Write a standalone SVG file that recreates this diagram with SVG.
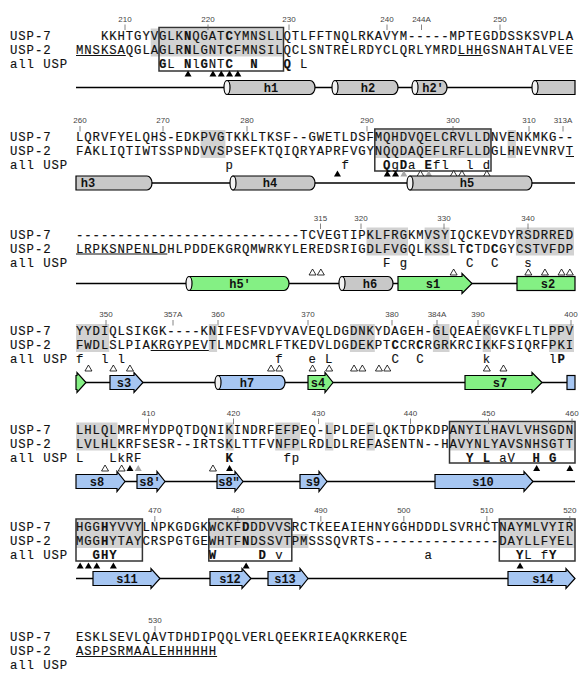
<svg xmlns="http://www.w3.org/2000/svg" width="584" height="679" viewBox="0 0 584 679">
<style>
.seq{font-family:"Liberation Mono","Courier New",monospace;font-size:12.3px;letter-spacing:0.92px;fill:#111;stroke:#111;stroke-width:0.15}
.b{font-weight:bold}
.num{font-family:"Liberation Sans",Arial,sans-serif;font-size:8px;fill:#444;text-anchor:middle}
.tick{stroke:#666;stroke-width:0.8}
.shade{fill:#d2d2d2}
.box{fill:none;stroke:#333;stroke-width:1.5}
.ul{stroke:#111;stroke-width:1}
.bb{stroke:#000;stroke-width:1.3}
.hg{fill:#c8c8c8;stroke:#000;stroke-width:1.2}
.gr{fill:#84f084;stroke:#000;stroke-width:1.2}
.bl{fill:#a6c6f2;stroke:#000;stroke-width:1.2}
.cap{fill:#f2f2f2;stroke:#000;stroke-width:1.2}
.ssl{font-family:"Liberation Mono","Courier New",monospace;font-size:12px;font-weight:bold;fill:#111;text-anchor:middle}
</style>
<defs>
<path id="tf" d="M-3.5,3 L0,-3 L3.5,3Z" fill="#000"/>
<path id="to" d="M-3.5,3 L0,-3 L3.5,3Z" fill="#fff" stroke="#000" stroke-width="0.8"/>
<path id="tg" d="M-3.5,3 L0,-3 L3.5,3Z" fill="#a8a8a8"/>
</defs>

<!-- ===== Block 1 ===== -->
<g id="block1">
<rect class="shade" x="150.7" y="28.5" width="132.8" height="28"/>
<rect class="box" x="159" y="27.5" width="124.5" height="43.5"/>
<text class="num" x="125" y="21.5">210</text><text class="num" x="208" y="21.5">220</text><text class="num" x="289" y="21.5">230</text><text class="num" x="387" y="21.5">240</text><text class="num" x="421.5" y="21.5">244A</text><text class="num" x="500" y="21.5">250</text>
<g class="tick"><line x1="125" y1="24.5" x2="125" y2="30"/><line x1="208" y1="24.5" x2="208" y2="30"/><line x1="289" y1="24.5" x2="289" y2="30"/><line x1="387" y1="24.5" x2="387" y2="30"/><line x1="421.5" y1="24.5" x2="421.5" y2="30"/><line x1="500" y1="24.5" x2="500" y2="30"/></g>
<text class="seq" x="10" y="39.5">USP-7</text>
<text class="seq" x="10" y="53.5">USP-2</text>
<text class="seq" x="10" y="67.5">all USP</text>
<text class="seq" x="100.9" y="39.5">KKHTGYVGLK</text><text class="seq b" x="183.9" y="39.5">N</text><text class="seq" x="192.2" y="39.5">QGAT</text><text class="seq b" x="225.4" y="39.5">C</text><text class="seq" x="233.7" y="39.5">YMNSLLQTLFFTNQLRKAVYM-----MPTEGDDSSKSVPLA</text>
<text class="seq" x="76" y="53.5">MNSKSAQGLAGLR</text><text class="seq b" x="183.9" y="53.5">N</text><text class="seq" x="192.2" y="53.5">LGNT</text><text class="seq b" x="225.4" y="53.5">C</text><text class="seq" x="233.7" y="53.5">FMNSILQCLSNTRELRDYCLQRLYMRDLHHGSNAHTALVEE</text>
<line class="ul" x1="76" y1="55.5" x2="125.8" y2="55.5"/>
<line class="ul" x1="457.8" y1="55.5" x2="482.7" y2="55.5"/>
<text class="seq b" x="159" y="67.5">G</text><text class="seq" x="167.3" y="67.5">L</text><text class="seq b" x="183.9" y="67.5">N</text><text class="seq" x="192.2" y="67.5">l</text><text class="seq b" x="200.5" y="67.5">G</text><text class="seq" x="208.8" y="67.5">NT</text><text class="seq b" x="225.4" y="67.5">C</text><text class="seq b" x="250.3" y="67.5">N</text><text class="seq b" x="283.5" y="67.5">Q</text><text class="seq" x="300.1" y="67.5">L</text>
<use href="#tf" x="188.05" y="73.5"/><use href="#tf" x="212.95" y="73.5"/><use href="#tf" x="221.25" y="73.5"/><use href="#tf" x="229.55" y="73.5"/><use href="#tf" x="237.85" y="73.5"/>
</g>

<!-- ===== Block 2 ===== -->
<g id="block2">
<rect class="shade" x="200.5" y="130" width="24.9" height="28"/>
<rect class="shade" x="374.8" y="130" width="116.2" height="28"/>
<rect class="shade" x="507.6" y="130" width="8.3" height="28"/>
<rect class="box" x="374.8" y="129" width="116.2" height="42"/>
<text class="num" x="80" y="123">260</text><text class="num" x="163" y="123">270</text><text class="num" x="247" y="123">280</text><text class="num" x="367" y="123">290</text><text class="num" x="453" y="123">300</text><text class="num" x="529" y="123">310</text><text class="num" x="563" y="123">313A</text>
<g class="tick"><line x1="80" y1="126" x2="80" y2="131.5"/><line x1="163" y1="126" x2="163" y2="131.5"/><line x1="247" y1="126" x2="247" y2="131.5"/><line x1="367" y1="126" x2="367" y2="131.5"/><line x1="453" y1="126" x2="453" y2="131.5"/><line x1="529" y1="126" x2="529" y2="131.5"/><line x1="563" y1="126" x2="563" y2="131.5"/></g>
<text class="seq" x="10" y="141">USP-7</text>
<text class="seq" x="10" y="155">USP-2</text>
<text class="seq" x="10" y="169">all USP</text>
<text class="seq" x="76" y="141">LQRVFYELQHS-EDKPVGTKKLTKSF--GWETLDSFMQHDVQELCRVLLDNVENKMKG--</text>
<text class="seq" x="76" y="155">FAKLIQTIWTSSPNDVVSPSEFKTQIQRYAPRFVGYNQQDAQEFLRFLLDGLHNEVNRVT</text>
<line class="ul" x1="565.7" y1="156.5" x2="574" y2="156.5"/>
<text class="seq" x="225.4" y="169">p</text><text class="seq" x="341.6" y="169">f</text><text class="seq b" x="383.1" y="169">Q</text><text class="seq" x="391.4" y="169">g</text><text class="seq b" x="399.7" y="169">D</text><text class="seq" x="408" y="169">a</text><text class="seq b" x="424.6" y="169">E</text><text class="seq" x="432.9" y="169">fl</text><text class="seq" x="466.1" y="169">l</text><text class="seq" x="482.7" y="169">d</text>
<use href="#tf" x="337.45" y="173.5"/><use href="#tf" x="387.25" y="173.5"/><use href="#tf" x="395.55" y="173.5"/><use href="#tg" x="403.85" y="173.5"/><use href="#to" x="420.45" y="173.5"/><use href="#tg" x="428.75" y="173.5"/><use href="#to" x="453.65" y="173.5"/><use href="#to" x="461.95" y="173.5"/><use href="#to" x="486.85" y="173.5"/>
</g>

<!-- ===== Block 3 ===== -->
<g id="block3">
<rect class="shade" x="366.5" y="227.5" width="41.5" height="28"/>
<rect class="shade" x="424.6" y="227.5" width="24.9" height="28"/>
<rect class="shade" x="515.9" y="227.5" width="58.1" height="28"/>
<text class="num" x="320.5" y="220.5">315</text><text class="num" x="361" y="220.5">320</text><text class="num" x="444" y="220.5">330</text><text class="num" x="528" y="220.5">340</text>
<g class="tick"><line x1="320.5" y1="223.5" x2="320.5" y2="229"/><line x1="361" y1="223.5" x2="361" y2="229"/><line x1="444" y1="223.5" x2="444" y2="229"/><line x1="528" y1="223.5" x2="528" y2="229"/></g>
<text class="seq" x="10" y="238.5">USP-7</text>
<text class="seq" x="10" y="252.5">USP-2</text>
<text class="seq" x="10" y="266.5">all USP</text>
<text class="seq" x="76" y="238.5">---------------------------TCVEGTIPKLFRGKMVSYIQCKEVDYRSDRRED</text>
<text class="seq" x="76" y="252.5">LRPKSNPENLDHLPDDEKGRQMWRKYLEREDSRIGDLFVGQLKSSLT</text><text class="seq b" x="466.1" y="252.5">C</text><text class="seq" x="474.4" y="252.5">TD</text><text class="seq b" x="491" y="252.5">C</text><text class="seq" x="499.3" y="252.5">GYCSTVFDP</text>
<line class="ul" x1="76" y1="254" x2="167.3" y2="254"/>
<text class="seq" x="383.1" y="266.5">F</text><text class="seq" x="399.7" y="266.5">g</text><text class="seq" x="466.1" y="266.5">C</text><text class="seq" x="491" y="266.5">C</text><text class="seq" x="524.2" y="266.5">s</text>
<use href="#to" x="312.55" y="272"/><use href="#to" x="320.85" y="272"/><use href="#to" x="453.65" y="272"/><use href="#to" x="528.35" y="272"/><use href="#to" x="544.95" y="272"/><use href="#to" x="561.55" y="272"/><use href="#to" x="569.85" y="272"/>
</g>

<!-- ===== Block 4 ===== -->
<g id="block4">
<rect class="shade" x="76" y="324" width="33.2" height="28"/>
<rect class="shade" x="208.8" y="324" width="8.3" height="28"/>
<rect class="shade" x="349.9" y="324" width="24.9" height="28"/>
<rect class="shade" x="432.9" y="324" width="16.6" height="28"/>
<rect class="shade" x="482.7" y="324" width="8.3" height="28"/>
<rect class="shade" x="549.1" y="324" width="24.9" height="28"/>
<text class="num" x="106" y="317">350</text><text class="num" x="173" y="317">357A</text><text class="num" x="218" y="317">360</text><text class="num" x="308" y="317">370</text><text class="num" x="392" y="317">380</text><text class="num" x="437" y="317">384A</text><text class="num" x="478" y="317">390</text><text class="num" x="571" y="317">400</text>
<g class="tick"><line x1="106" y1="320" x2="106" y2="325.5"/><line x1="173" y1="320" x2="173" y2="325.5"/><line x1="218" y1="320" x2="218" y2="325.5"/><line x1="308" y1="320" x2="308" y2="325.5"/><line x1="392" y1="320" x2="392" y2="325.5"/><line x1="437" y1="320" x2="437" y2="325.5"/><line x1="478" y1="320" x2="478" y2="325.5"/><line x1="571" y1="320" x2="571" y2="325.5"/></g>
<text class="seq" x="10" y="335">USP-7</text>
<text class="seq" x="10" y="349">USP-2</text>
<text class="seq" x="10" y="363">all USP</text>
<text class="seq" x="76" y="335">YYDIQLSIKGK----KNIFESFVDYVAVEQLDGDNKYDAGEH-GLQEAEKGVKFLTLPPV</text>
<text class="seq" x="76" y="349">FWDLSLPIAKRGYPEVTLMDCMRLFTKEDVLDGDEKPT</text><text class="seq b" x="391.4" y="349">C</text><text class="seq" x="399.7" y="349">CR</text><text class="seq b" x="416.3" y="349">C</text><text class="seq" x="424.6" y="349">RGRKRCIKKFSIQRFPKI</text>
<line class="ul" x1="150.7" y1="350.5" x2="208.8" y2="350.5"/>
<text class="seq" x="76" y="363">f</text><text class="seq" x="100.9" y="363">l</text><text class="seq" x="117.5" y="363">l</text><text class="seq" x="275.2" y="363">f</text><text class="seq" x="308.4" y="363">e</text><text class="seq" x="325" y="363">L</text><text class="seq" x="391.4" y="363">C</text><text class="seq" x="416.3" y="363">C</text><text class="seq" x="482.7" y="363">k</text><text class="seq" x="549.1" y="363">l</text><text class="seq b" x="557.4" y="363">P</text>
<use href="#to" x="88.45" y="368"/><use href="#to" x="113.35" y="368"/><use href="#to" x="129.95" y="368"/><use href="#to" x="271.05" y="368"/><use href="#to" x="279.35" y="368"/><use href="#to" x="312.55" y="368"/><use href="#to" x="329.15" y="368"/><use href="#to" x="354.05" y="368"/><use href="#to" x="362.35" y="368"/><use href="#to" x="378.95" y="368"/><use href="#to" x="387.25" y="368"/><use href="#to" x="486.85" y="368"/><use href="#to" x="503.45" y="368"/>
</g>

<!-- ===== Block 5 ===== -->
<g id="block5">
<rect class="shade" x="76" y="422.5" width="41.5" height="28"/>
<rect class="shade" x="225.4" y="422.5" width="8.3" height="28"/>
<rect class="shade" x="275.2" y="422.5" width="24.9" height="28"/>
<rect class="shade" x="325" y="422.5" width="8.3" height="28"/>
<rect class="shade" x="366.5" y="422.5" width="8.3" height="28"/>
<rect class="shade" x="449.5" y="422.5" width="124.5" height="28"/>
<rect class="box" x="449.5" y="421.5" width="125.5" height="41.5"/>
<text class="num" x="148.5" y="415.5">410</text><text class="num" x="233.5" y="415.5">420</text><text class="num" x="318.5" y="415.5">430</text><text class="num" x="410.5" y="415.5">440</text><text class="num" x="488.5" y="415.5">450</text><text class="num" x="572" y="415.5">460</text>
<g class="tick"><line x1="148.5" y1="418.5" x2="148.5" y2="424"/><line x1="233.5" y1="418.5" x2="233.5" y2="424"/><line x1="318.5" y1="418.5" x2="318.5" y2="424"/><line x1="410.5" y1="418.5" x2="410.5" y2="424"/><line x1="488.5" y1="418.5" x2="488.5" y2="424"/><line x1="572" y1="418.5" x2="572" y2="424"/></g>
<text class="seq" x="10" y="433.5">USP-7</text>
<text class="seq" x="10" y="447.5">USP-2</text>
<text class="seq" x="10" y="461.5">all USP</text>
<text class="seq" x="76" y="433.5">LHLQLMRFMYDPQTDQNIKINDRFEFPEQ-LPLDEFLQKTDPKDPANYILHAVLVHSGDN</text>
<text class="seq" x="76" y="447.5">LVLHLKRFSESR--IRTSKLTTFVNFPLRDLDLREFASENTN--HAVYNLYAVSNHSGTT</text>
<text class="seq" x="76" y="461.5">L</text><text class="seq" x="109.2" y="461.5">LkRF</text><text class="seq b" x="225.4" y="461.5">K</text><text class="seq" x="283.5" y="461.5">fp</text><text class="seq b" x="466.1" y="461.5">Y</text><text class="seq b" x="482.7" y="461.5">L</text><text class="seq" x="499.3" y="461.5">aV</text><text class="seq b" x="532.5" y="461.5">H</text><text class="seq b" x="549.1" y="461.5">G</text>
<use href="#to" x="105.05" y="468"/><use href="#to" x="121.65" y="468"/><use href="#tf" x="129.95" y="468"/><use href="#tg" x="138.25" y="468"/><use href="#to" x="212.95" y="468"/><use href="#tf" x="229.55" y="468"/><use href="#tf" x="536.65" y="468"/><use href="#tf" x="569.85" y="468"/>
</g>

<!-- ===== Block 6 ===== -->
<g id="block6">
<rect class="shade" x="76" y="520" width="66.4" height="28"/>
<rect class="shade" x="208.8" y="520" width="83" height="28"/>
<rect class="shade" x="291.8" y="534" width="16.6" height="14"/>
<rect class="shade" x="499.3" y="520" width="75.7" height="28"/>
<rect class="box" x="76" y="519" width="66.4" height="42"/>
<rect class="box" x="208.8" y="519" width="83" height="42"/>
<rect class="box" x="499.3" y="519" width="75.7" height="42"/>
<text class="num" x="154.85" y="513">470</text><text class="num" x="237.85" y="513">480</text><text class="num" x="320.85" y="513">490</text><text class="num" x="403.85" y="513">500</text><text class="num" x="486.85" y="513">510</text><text class="num" x="569.85" y="513">520</text>
<g class="tick"><line x1="154.85" y1="516" x2="154.85" y2="521.5"/><line x1="237.85" y1="516" x2="237.85" y2="521.5"/><line x1="320.85" y1="516" x2="320.85" y2="521.5"/><line x1="403.85" y1="516" x2="403.85" y2="521.5"/><line x1="486.85" y1="516" x2="486.85" y2="521.5"/><line x1="569.85" y1="516" x2="569.85" y2="521.5"/></g>
<text class="seq" x="10" y="531">USP-7</text>
<text class="seq" x="10" y="545">USP-2</text>
<text class="seq" x="10" y="559">all USP</text>
<text class="seq" x="76" y="531">HGG</text><text class="seq b" x="100.9" y="531">H</text><text class="seq" x="109.2" y="531">YVVYLNPKGDGKWCKF</text><text class="seq b" x="242" y="531">D</text><text class="seq" x="250.3" y="531">DDVVSRCTKEEAIEHNYGGHDDDLSVRHCTNAYMLVYIR</text>
<text class="seq" x="76" y="545">MGG</text><text class="seq b" x="100.9" y="545">H</text><text class="seq" x="109.2" y="545">YTAYCRSPGTGEWHTF</text><text class="seq b" x="242" y="545">N</text><text class="seq" x="250.3" y="545">DSSVTPMSSSQVRTS---------------DAYLLFYEL</text>
<text class="seq b" x="92.6" y="559">GHY</text><text class="seq b" x="208.8" y="559">W</text><text class="seq b" x="258.6" y="559">D</text><text class="seq" x="275.2" y="559">v</text><text class="seq" x="424.6" y="559">a</text><text class="seq b" x="515.9" y="559">Y</text><text class="seq" x="524.2" y="559">L</text><text class="seq" x="540.8" y="559">f</text><text class="seq b" x="549.1" y="559">Y</text>
<use href="#tf" x="80.15" y="565.5"/><use href="#tf" x="88.45" y="565.5"/><use href="#tf" x="96.75" y="565.5"/><use href="#tf" x="113.35" y="565.5"/><use href="#tf" x="246.15" y="565.5"/><use href="#tf" x="520.05" y="565.5"/>
</g>

<!-- ===== Block 7 ===== -->
<g id="block7">
<text class="num" x="155" y="623">530</text>
<line class="tick" x1="155" y1="626" x2="155" y2="631.5"/>
<text class="seq" x="10" y="641">USP-7</text>
<text class="seq" x="10" y="655">USP-2</text>
<text class="seq" x="10" y="669">all USP</text>
<text class="seq" x="76" y="641">ESKLSEVLQAVTDHDIPQQLVERLQEEKRIEAQKRKERQE</text>
<text class="seq" x="76" y="655">ASPPSRMAALEHHHHHH</text>
<line class="ul" x1="76" y1="656.5" x2="217.1" y2="656.5"/>
</g>

<!-- ===== Secondary structure backbone (connectors) ===== -->
<g id="connectors">
<line class="bb" x1="76" y1="87.5" x2="575" y2="87.5"/>
<line class="bb" x1="76" y1="183" x2="575" y2="183"/>
<line class="bb" x1="76" y1="283.5" x2="575" y2="283.5"/>
<line class="bb" x1="76" y1="382.5" x2="575" y2="382.5"/>
<line class="bb" x1="76" y1="481.5" x2="575" y2="481.5"/>
<line class="bb" x1="76" y1="578.5" x2="575" y2="578.5"/>
</g>

<g id="ss1">
<path class="hg" d="M227,80.5 H310 A5,7 0 0 1 310,94.5 H227 Z"/><ellipse class="cap" cx="227" cy="87.5" rx="3" ry="7"/>
<path class="hg" d="M335,80.5 H393 A5,7 0 0 1 393,94.5 H335 Z"/><ellipse class="cap" cx="335" cy="87.5" rx="3" ry="7"/>
<path class="hg" d="M415,80.5 H442 A5,7 0 0 1 442,94.5 H415 Z"/><ellipse class="cap" cx="415" cy="87.5" rx="3" ry="7"/>
<path class="hg" d="M535,80.5 H575 V94.5 H535 Z"/><ellipse class="cap" cx="535" cy="87.5" rx="3" ry="7"/>
<text class="ssl" x="271" y="91.5">h1</text><text class="ssl" x="368" y="91.5">h2</text><text class="ssl" x="433" y="91.5">h2'</text>
</g>
<g id="ss2">
<path class="hg" d="M76,176 H147 A5,7 0 0 1 147,190 H76 Z"/>
<path class="hg" d="M233,176 H310 A5,7 0 0 1 310,190 H233 Z"/><ellipse class="cap" cx="233" cy="183" rx="3" ry="7"/>
<path class="hg" d="M410,176 H527 A5,7 0 0 1 527,190 H410 Z"/><ellipse class="cap" cx="410" cy="183" rx="3" ry="7"/>
<text class="ssl" x="88" y="187">h3</text><text class="ssl" x="270" y="187">h4</text><text class="ssl" x="467" y="187">h5</text>
</g>
<g id="ss3">
<path class="gr" d="M189,276.5 H284 A5,7 0 0 1 284,290.5 H189 Z"/><ellipse class="cap" cx="189" cy="283.5" rx="3" ry="7"/>
<path class="hg" d="M342,276.5 H388 A5,7 0 0 1 388,290.5 H342 Z"/><ellipse class="cap" cx="342" cy="283.5" rx="3" ry="7"/>
<polygon class="gr" points="398,276.5 462,276.5 462,273.5 472,283.5 462,293.5 462,290.5 398,290.5"/>
<rect class="gr" x="517" y="276.5" width="58" height="14"/>
<text class="ssl" x="240" y="287.5">h5'</text><text class="ssl" x="370" y="287.5">h6</text><text class="ssl" x="433" y="287.5">s1</text><text class="ssl" x="548" y="287.5">s2</text>
</g>
<g id="ss4">
<polygon class="gr" points="76,375.5 77,375.5 77,372.5 86,382.5 77,392.5 77,389.5 76,389.5"/>
<polygon class="bl" points="110,375.5 134,375.5 134,372.5 143,382.5 134,392.5 134,389.5 110,389.5"/>
<path class="bl" d="M218,375.5 H280 A5,7 0 0 1 280,389.5 H218 Z"/><ellipse class="cap" cx="218" cy="382.5" rx="3" ry="7"/>
<polygon class="gr" points="308,375.5 325,375.5 325,372.5 333,382.5 325,392.5 325,389.5 308,389.5"/>
<polygon class="gr" points="465,375.5 532,375.5 532,372.5 542,382.5 532,392.5 532,389.5 465,389.5"/>
<rect class="bl" x="567" y="375.5" width="8" height="14"/>
<text class="ssl" x="124" y="386.5">s3</text><text class="ssl" x="247" y="386.5">h7</text><text class="ssl" x="318" y="386.5">s4</text><text class="ssl" x="500" y="386.5">s7</text>
</g>
<g id="ss5">
<polygon class="bl" points="76,474.5 117,474.5 117,471.5 125,481.5 117,491.5 117,488.5 76,488.5"/>
<polygon class="bl" points="137,474.5 157,474.5 157,471.5 165,481.5 157,491.5 157,488.5 137,488.5"/>
<polygon class="bl" points="217,474.5 235,474.5 235,471.5 243,481.5 235,491.5 235,488.5 217,488.5"/>
<polygon class="bl" points="300,474.5 319,474.5 319,471.5 327,481.5 319,491.5 319,488.5 300,488.5"/>
<polygon class="bl" points="435,474.5 524,474.5 524,471.5 533,481.5 524,491.5 524,488.5 435,488.5"/>
<text class="ssl" x="97" y="485.5">s8</text><text class="ssl" x="150" y="485.5">s8'</text><text class="ssl" x="229" y="485.5">s8"</text><text class="ssl" x="313" y="485.5">s9</text><text class="ssl" x="483" y="485.5">s10</text>
</g>
<g id="ss6">
<polygon class="bl" points="93,571.5 151,571.5 151,568.5 160,578.5 151,588.5 151,585.5 93,585.5"/>
<polygon class="bl" points="210,571.5 242,571.5 242,568.5 251,578.5 242,588.5 242,585.5 210,585.5"/>
<polygon class="bl" points="268,571.5 300,571.5 300,568.5 308,578.5 300,588.5 300,585.5 268,585.5"/>
<polygon class="bl" points="508,571.5 566,571.5 566,568.5 575,578.5 566,588.5 566,585.5 508,585.5"/>
<text class="ssl" x="127" y="582.5">s11</text><text class="ssl" x="230" y="582.5">s12</text><text class="ssl" x="285" y="582.5">s13</text><text class="ssl" x="543" y="582.5">s14</text>
</g>
</svg>
